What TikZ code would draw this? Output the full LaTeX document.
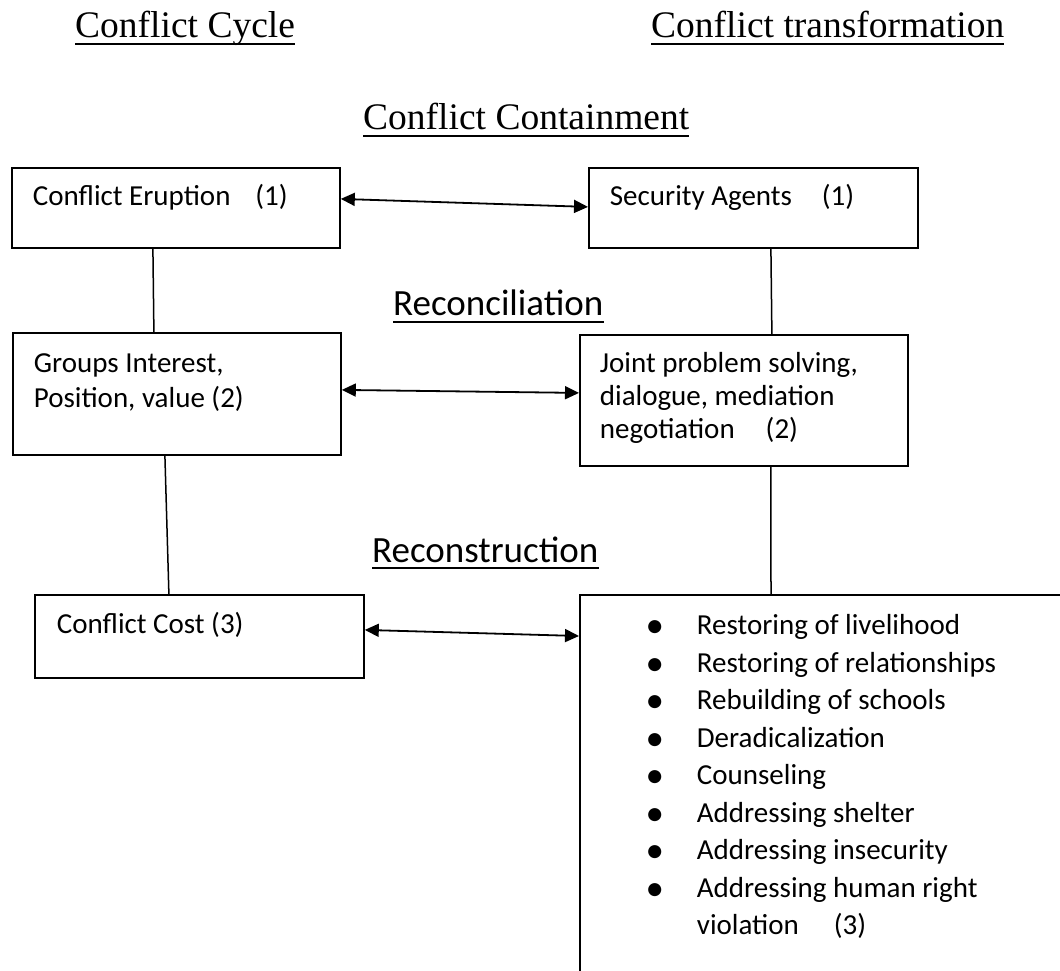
\documentclass[tikz,border=0pt]{standalone}
\usepackage{fontspec}
\setmainfont{Liberation Serif}
\newfontfamily\carlito{Carlito}
\usetikzlibrary{arrows.meta}
% #1 height, #2 width, #3 left pad, #4 first baseline from top, #5 baselineskip, #6 text
\newcommand{\boxtxt}[6]{\parbox[b][#1][t]{#2}{\raggedright\leftskip=#3\relax\carlito\fontsize{29pt}{#5}\selectfont\rule{0pt}{#4}#6}}
\newcommand{\bul}{\leavevmode\llap{\makebox[20pt]{\raisebox{-3pt}{\fontsize{37pt}{37pt}\selectfont\textbullet}}\hspace{32pt}}}
\begin{document}
\begin{tikzpicture}[x=1pt,y=-1pt,
  bx/.style={draw, line width=1.8pt, inner sep=0pt, anchor=north west},
  ttl/.style={inner sep=0pt, anchor=base west, font=\fontsize{37.5pt}{45pt}\selectfont},
  sttl/.style={inner sep=0pt, anchor=base west, font=\carlito\fontsize{37pt}{45pt}\selectfont},
  ul/.style={line width=2pt},
  conn/.style={line width=1.5pt},
  biarrow/.style={line width=1.8pt, {Triangle[length=14pt,width=13pt]}-{Triangle[length=14pt,width=13pt]}}]
\useasboundingbox (0,0) rectangle (1060,970);
\clip (0,0) rectangle (1060,970);
\fill[white] (0,0) rectangle (1060,970);

% titles
\node[ttl] (cycle) at (75,37) {Conflict Cycle};
\node[ttl] (transf) at (651,37) {Conflict transformation};
\node[ttl] (contain) at (363,129) {Conflict Containment};
\node[sttl] (reconc) at (393,315) {Reconciliation};
\node[sttl] (recons) at (372,562) {Reconstruction};
\foreach \n in {cycle,transf,contain,reconc}
  \draw[ul] ([yshift=-6.5pt]\n.base west) -- ([yshift=-6.5pt]\n.base east);
\draw[ul] ([yshift=-5.5pt]recons.base west) -- ([yshift=-5.5pt]recons.base east);

% boxes
\node[bx] (b1) at (11,167) {\boxtxt{80pt}{328pt}{21pt}{38pt}{35pt}{Conflict Eruption\hspace{25pt}(1)}};
\node[bx] (b2) at (588,167) {\boxtxt{80pt}{329pt}{21pt}{38pt}{35pt}{Security Agents\hspace{30pt}(1)}};
\node[bx] (b3) at (12,332) {\boxtxt{122pt}{328pt}{21pt}{40pt}{35pt}{Groups Interest,\\Position, value (2)}};
\node[bx] (b4) at (579,334) {\boxtxt{131pt}{328pt}{20pt}{38pt}{33pt}{Joint problem solving,\\dialogue, mediation\\negotiation\hspace{31pt}(2)}};
\node[bx] (b5) at (34,594) {\boxtxt{83pt}{329pt}{22pt}{39pt}{35pt}{Conflict Cost (3)}};
\node[bx] (b6) at (579,594) {\boxtxt{500pt}{600pt}{117pt}{40pt}{37.5pt}{%
\bul Restoring of livelihood\\
\bul Restoring of relationships\\
\bul Rebuilding of schools\\
\bul Deradicalization\\
\bul Counseling\\
\bul Addressing shelter\\
\bul Addressing insecurity\\
\bul Addressing human right\\
\leavevmode violation\hspace{35pt}(3)}};

% vertical connectors
\draw[conn] ([xshift=-23pt]b1.south) -- ([xshift=-23pt]b3.north);
\draw[conn] ([xshift=17.5pt]b2.south) -- ([xshift=28pt]b4.north);
\draw[conn] ([xshift=-12pt]b3.south) -- ([xshift=-30.5pt]b5.north);
\draw[conn] ([xshift=27pt]b4.south) -- ([xshift=192pt]b6.north west);

% double arrows
\draw[biarrow] ([yshift=9pt]b1.east) -- ([yshift=1pt]b2.west);
\draw[biarrow] ([yshift=4pt]b3.east) -- ([yshift=7.5pt]b4.west);
\draw[biarrow] ([yshift=6.5pt]b5.east) -- ([yshift=-42pt]b6.north west);
\end{tikzpicture}
\end{document}
